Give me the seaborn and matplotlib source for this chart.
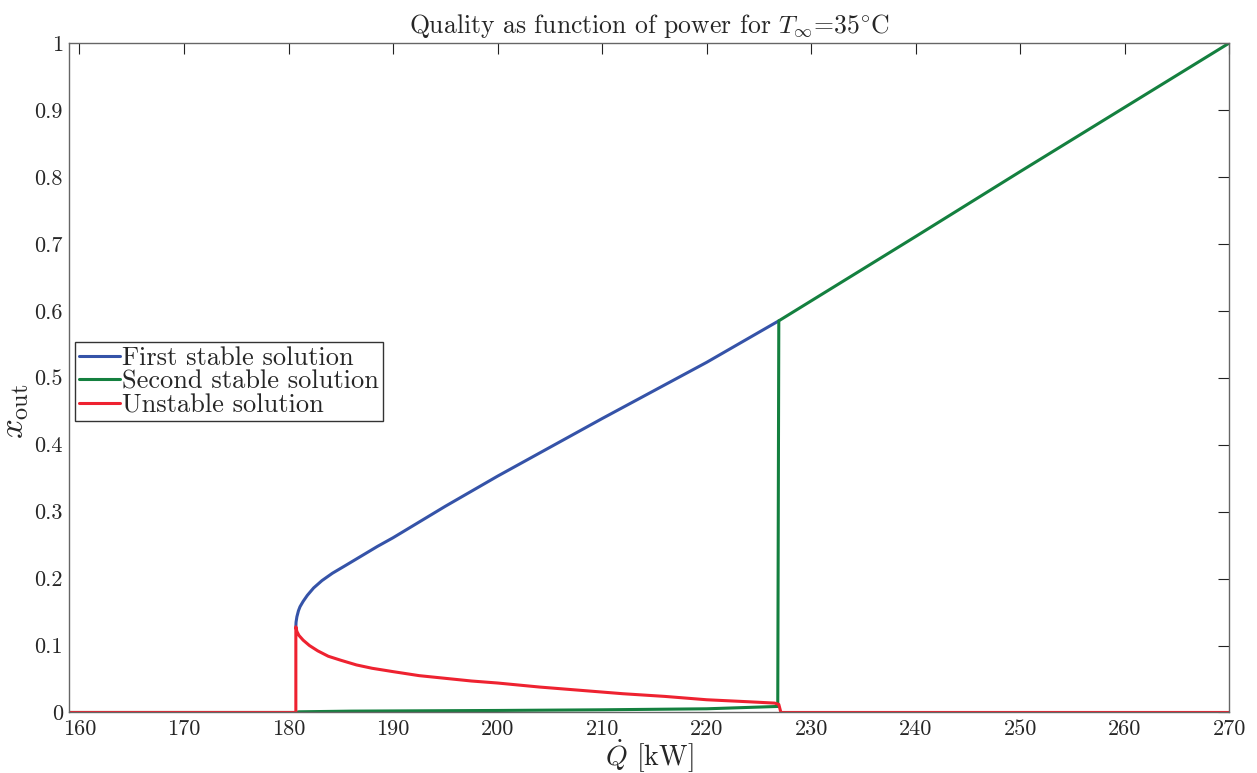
import numpy as np
import pandas as pd
import matplotlib
matplotlib.use("Agg")
import matplotlib.pyplot as plt
import seaborn as sns

# Heat input Q [kW] and outlet quality x_out for each solution branch
first_q = [180.70, 180.72, 180.80, 180.95, 181.10, 181.40, 181.80, 182.40,
           183.20, 184.20, 185.50, 187.00, 188.50, 190.00, 195.00, 200.00,
           205.00, 210.00, 215.00, 220.00, 226.90]
first_x = [0.128, 0.135, 0.143, 0.152, 0.158, 0.166, 0.175, 0.186,
           0.197, 0.208, 0.220, 0.234, 0.248, 0.261, 0.308, 0.353,
           0.396, 0.439, 0.481, 0.523, 0.585]

second_q = [159.0, 180.7, 181.0, 186.0, 200.0, 210.0, 220.0, 226.8, 226.9,
            240.0, 250.0, 260.0, 270.0]
second_x = [0.000, 0.000, 0.001, 0.002, 0.003, 0.004, 0.0055, 0.009, 0.585,
            0.711, 0.808, 0.904, 1.000]

unstable_q = [159.0, 180.7, 180.7, 180.8, 181.0, 181.4, 182.0, 182.8, 183.8,
              185.0, 186.5, 188.0, 190.0, 192.5, 195.0, 197.5, 200.0, 204.0,
              208.0, 212.0, 216.0, 220.0, 224.0, 226.5, 226.9, 227.1, 270.0]
unstable_x = [0.000, 0.000, 0.128, 0.121, 0.115, 0.108, 0.100, 0.092, 0.084,
              0.078, 0.071, 0.066, 0.061, 0.055, 0.051, 0.047, 0.044, 0.038,
              0.033, 0.028, 0.024, 0.019, 0.016, 0.014, 0.012, 0.000, 0.000]

series_names = ["First stable solution", "Second stable solution", "Unstable solution"]
series_colors = ["#3553a8", "#14803f", "#ee2230"]

x_ticks = [160, 170, 180, 190, 200, 210, 220, 230, 240, 250, 260, 270]
x_tick_labels = ["160", "170", "180", "190", "200", "210", "220", "230",
                 "240", "250", "260", "270"]
y_ticks = [0.0, 0.1, 0.2, 0.3, 0.4, 0.5, 0.6, 0.7, 0.8, 0.9, 1.0]
y_tick_labels = ["0", "0.1", "0.2", "0.3", "0.4", "0.5", "0.6", "0.7",
                 "0.8", "0.9", "1"]

df = pd.concat([
    pd.DataFrame({"Q": first_q, "x": first_x, "branch": series_names[0]}),
    pd.DataFrame({"Q": second_q, "x": second_x, "branch": series_names[1]}),
    pd.DataFrame({"Q": unstable_q, "x": unstable_x, "branch": series_names[2]}),
], ignore_index=True)

sns.set_style("white")
plt.rcParams["font.family"] = ["cmr10", "DejaVu Serif"]
plt.rcParams["mathtext.fontset"] = "cm"
plt.rcParams["axes.formatter.use_mathtext"] = True

fig = plt.figure(figsize=(12.57, 7.73), dpi=100)
ax = fig.add_axes([0.0549, 0.0783, 0.9231, 0.8661])

sns.lineplot(data=df, x="Q", y="x", hue="branch", hue_order=series_names,
             palette=series_colors, sort=False, estimator=None,
             linewidth=2.2, ax=ax)

ax.set_xlim(159, 270)
ax.set_ylim(0, 1)
ax.set_xticks(x_ticks)
ax.set_xticklabels(x_tick_labels)
ax.set_yticks(y_ticks)
ax.set_yticklabels(y_tick_labels)

ax.tick_params(direction="in", top=True, right=True, length=8, width=0.8,
               color="#222222", labelsize=16)
ax.tick_params(axis="y", pad=4.5)
ax.tick_params(axis="x", pad=5)
for s in ax.spines.values():
    s.set_color("#666666")
    s.set_linewidth(1.0)

ax.set_title(r"Quality as function of power for $T_\infty$=$35^{\circ}\mathrm{C}$",
             fontsize=18.5, pad=7)
ax.set_xlabel(r"$\dot{Q}$ [kW]", fontsize=20, labelpad=-1)
ax.set_ylabel(r"$x_{\mathrm{out}}$", fontsize=25)
ax.yaxis.set_label_coords(-0.033, 0.45)

leg = ax.legend(loc="upper left", bbox_to_anchor=(0.005, 0.553),
                borderaxespad=0, fontsize=19, handlelength=1.55,
                handletextpad=0.1, labelspacing=0.0, borderpad=0.15,
                fancybox=False, framealpha=1, edgecolor="#333333")
leg.get_frame().set_linewidth(1.0)
for line in leg.get_lines():
    line.set_linewidth(2.2)

fig.savefig("out.png", dpi=100)
